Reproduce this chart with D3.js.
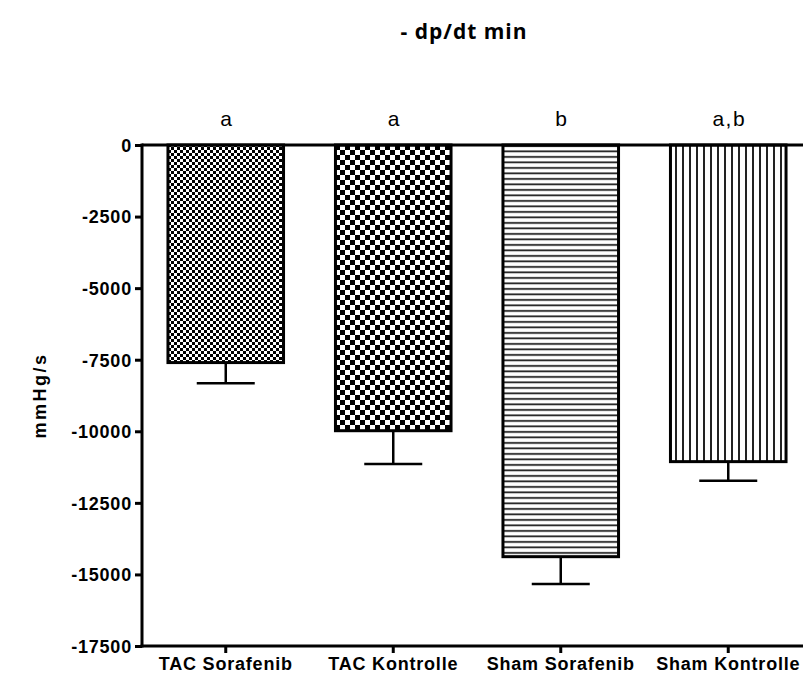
<!DOCTYPE html>
<html><head><meta charset="utf-8">
<script src="https://cdn.jsdelivr.net/npm/d3@7"></script>
<style>body{margin:0;background:#fff}svg{display:block}</style>
</head><body>
<svg id="c" width="803" height="679"></svg>
<script>
const categories = ["TAC Sorafenib", "TAC Kontrolle", "Sham Sorafenib", "Sham Kontrolle"];
const means = [-7600, -9980, -14380, -11060];
const sems = [720, 1160, 950, 670];
const sigLetters = ["a", "a", "b", "a,b"];
const yTicks = [0, -2500, -5000, -7500, -10000, -12500, -15000, -17500];
const patterns = ["checkFine", "checkCoarse", "hLines", "vLines"];

const svg = d3.select("#c");
const x0 = 142, x1 = 812, yTop = 145, yBot = 646;
const x = d3.scaleBand().domain(categories).range([x0, x1]).paddingInner(0.31).paddingOuter(0.155);
const y = d3.scaleLinear().domain([0, -17500]).range([yTop, yBot]);
const FONT = "Liberation Sans, Arial, sans-serif";

const defs = svg.append("defs");
function checker(id, c) {
  const p = defs.append("pattern").attr("id", id).attr("patternUnits", "userSpaceOnUse")
    .attr("width", 2 * c).attr("height", 2 * c);
  p.append("rect").attr("width", 2 * c).attr("height", 2 * c).attr("fill", "#fff");
  p.append("rect").attr("width", c).attr("height", c).attr("fill", "#000");
  p.append("rect").attr("x", c).attr("y", c).attr("width", c).attr("height", c).attr("fill", "#000");
}
checker("checkFine", 3);
checker("checkCoarse", 5);
{
  const p = defs.append("pattern").attr("id", "hLines").attr("patternUnits", "userSpaceOnUse")
    .attr("width", 10).attr("height", 5.5);
  p.append("rect").attr("width", 10).attr("height", 5.5).attr("fill", "#fff");
  p.append("rect").attr("y", 2).attr("width", 10).attr("height", 1.8).attr("fill", "#222");
}
{
  const p = defs.append("pattern").attr("id", "vLines").attr("patternUnits", "userSpaceOnUse")
    .attr("width", 7).attr("height", 10);
  p.append("rect").attr("width", 7).attr("height", 10).attr("fill", "#fff");
  p.append("rect").attr("x", 3).attr("width", 2).attr("height", 10).attr("fill", "#222");
}

// title
svg.append("text").attr("x", 464).attr("y", 39).attr("text-anchor", "middle")
  .attr("font-family", "Open Sans, sans-serif").attr("font-weight", "bold").attr("font-size", 21)
  .attr("letter-spacing", 1).text("- dp/dt min");

// y label
svg.append("text").attr("transform", `translate(46,${(yTop + yBot) / 2}) rotate(-90)`)
  .attr("text-anchor", "middle").attr("font-family", FONT)
  .attr("font-weight", "bold").attr("font-size", 18).attr("letter-spacing", 2.5).text("mmHg/s");

// bars
const bw = x.bandwidth();
svg.selectAll(".bar").data(categories).enter().append("rect")
  .attr("x", d => x(d)).attr("y", y(0))
  .attr("width", bw).attr("height", (d, i) => y(means[i]) - y(0))
  .attr("fill", (d, i) => `url(#${patterns[i]})`)
  .attr("stroke", "#000").attr("stroke-width", 3);

// error bars
const cap = 29;
categories.forEach((d, i) => {
  const cx = x(d) + bw / 2;
  svg.append("line").attr("x1", cx).attr("x2", cx).attr("y1", y(means[i])).attr("y2", y(means[i] - sems[i]))
    .attr("stroke", "#000").attr("stroke-width", 2.5);
  svg.append("line").attr("x1", cx - cap).attr("x2", cx + cap).attr("y1", y(means[i] - sems[i])).attr("y2", y(means[i] - sems[i]))
    .attr("stroke", "#000").attr("stroke-width", 2.5);
  svg.append("text").attr("x", cx + 1).attr("y", 126).attr("text-anchor", "middle")
    .attr("font-family", FONT).attr("font-size", 21).attr("letter-spacing", 1.5).text(sigLetters[i]);
});

// zero line
svg.append("line").attr("x1", x0).attr("x2", x1).attr("y1", y(0)).attr("y2", y(0))
  .attr("stroke", "#000").attr("stroke-width", 3);

// y axis
const yAxis = svg.append("g").attr("transform", `translate(${x0},0)`)
  .call(d3.axisLeft(y).tickValues(yTicks).tickSize(7).tickPadding(3).tickFormat(d => String(d)));
yAxis.select(".domain").attr("stroke-width", 3).attr("d", `M0,${yTop - 1.5}V${yBot + 1.5}`);
yAxis.selectAll(".tick line").attr("stroke-width", 3);
yAxis.selectAll(".tick text").attr("font-family", FONT)
  .attr("font-weight", "bold").attr("font-size", 18).attr("letter-spacing", 0.8)
  .attr("fill", "#000").attr("dy", "0.35em");

// x axis
const xAxis = svg.append("g").attr("transform", `translate(0,${yBot})`)
  .call(d3.axisBottom(x).tickSize(7).tickPadding(4));
xAxis.select(".domain").attr("stroke-width", 3).attr("d", `M${x0 - 1.5},0H${x1}`);
xAxis.selectAll(".tick line").attr("stroke-width", 3);
xAxis.selectAll(".tick text").attr("font-family", FONT)
  .attr("font-weight", "bold").attr("font-size", 18).attr("letter-spacing", 0.8).attr("fill", "#000");
</script>
</body></html>
